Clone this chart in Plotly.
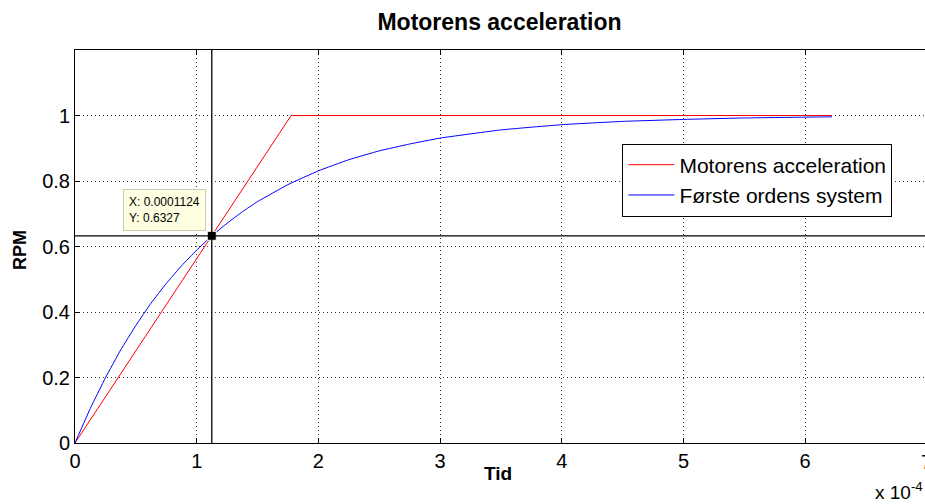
import plotly.graph_objects as go

# Data (time in seconds)
t_red = [0.0, 1.776e-4, 6.22e-4]
rpm_red = [0.0, 1.0, 1.0]

t_blue = [0.0, 0.125e-4, 0.25e-4, 0.375e-4, 0.5e-4, 0.625e-4, 0.75e-4, 0.875e-4, 1.0e-4,
          1.124e-4, 1.25e-4, 1.375e-4, 1.5e-4, 1.75e-4, 2.0e-4, 2.25e-4, 2.5e-4, 2.75e-4,
          3.0e-4, 3.5e-4, 4.0e-4, 4.5e-4, 5.0e-4, 5.5e-4, 6.0e-4, 6.22e-4]
rpm_blue = [0.0, 0.105, 0.199, 0.284, 0.359, 0.427, 0.487, 0.541, 0.589,
            0.6327, 0.671, 0.706, 0.737, 0.789, 0.831, 0.865, 0.892, 0.913,
            0.931, 0.956, 0.972, 0.982, 0.988, 0.9925, 0.995, 0.996]

tip_x = [1.124e-4]
tip_y = [0.6327]

x_tickvals = [0, 1e-4, 2e-4, 3e-4, 4e-4, 5e-4, 6e-4, 7e-4]
x_ticktext = ["0", "1", "2", "3", "4", "5", "6", "7"]
y_tickvals = [0, 0.2, 0.4, 0.6, 0.8, 1.0]
y_ticktext = ["0", "0.2", "0.4", "0.6", "0.8", "1"]

FONT = "Arial, Liberation Sans, sans-serif"
X_MAX = 6.985e-4

fig = go.Figure()
fig.add_trace(go.Scatter(x=t_red, y=rpm_red, mode="lines", name="Motorens acceleration",
                         line=dict(color="#ff0000", width=1)))
fig.add_trace(go.Scatter(x=t_blue, y=rpm_blue, mode="lines", name="Første ordens system",
                         line=dict(color="#0000ff", width=1, shape="spline", smoothing=0.3)))

# crosshair lines of data tip
fig.add_shape(type="line", xref="x", yref="paper", x0=tip_x[0], x1=tip_x[0], y0=0, y1=1,
              line=dict(color="black", width=1.3))
fig.add_shape(type="line", xref="paper", yref="y", x0=0, x1=1, y0=tip_y[0], y1=tip_y[0],
              line=dict(color="black", width=1.3))

fig.add_trace(go.Scatter(x=tip_x, y=tip_y, mode="markers", showlegend=False,
                         marker=dict(symbol="square", size=9, color="black",
                                     line=dict(color="#ffffe1", width=1))))

fig.add_annotation(x=tip_x[0], y=tip_y[0], xref="x", yref="y",
                   text="X: 0.0001124<br>Y: 0.6327", showarrow=False,
                   xanchor="right", yanchor="bottom", xshift=-6, yshift=5, align="left",
                   bgcolor="#ffffe1", bordercolor="#c8c8b4", borderwidth=1, borderpad=5,
                   font=dict(family=FONT, size=12, color="black"))

# partially visible last tick label "7" (axis range ends just before it)
fig.add_annotation(x=x_tickvals[-1] / X_MAX, y=0, xref="paper", yref="paper",
                   text=x_ticktext[-1], showarrow=False, xanchor="center", yanchor="top",
                   yshift=-6, font=dict(family=FONT, size=20, color="black"))

# exponent label
fig.add_annotation(x=1.0, y=0, xref="paper", yref="paper", text="x 10<sup>-4</sup>",
                   showarrow=False, xanchor="right", yanchor="middle", yshift=-48, xshift=0,
                   font=dict(family=FONT, size=19, color="black"))

# axis titles
fig.add_annotation(x=0.498, y=0, xref="paper", yref="paper", text="<b>Tid</b>",
                   showarrow=False, xanchor="center", yanchor="middle", yshift=-30,
                   font=dict(family=FONT, size=19, color="black"))
fig.add_annotation(x=0, y=0.491, xref="paper", yref="paper", text="<b>RPM</b>",
                   showarrow=False, xanchor="center", yanchor="middle", xshift=-55,
                   textangle=-90, font=dict(family=FONT, size=18, color="black"))

fig.update_layout(
    width=925, height=504,
    margin=dict(l=75, r=0, t=50, b=61),
    paper_bgcolor="white", plot_bgcolor="white",
    title=dict(text="<b>Motorens acceleration</b>", x=0.54, xanchor="center",
               y=0.956, yanchor="middle", font=dict(family=FONT, size=23, color="black")),
    font=dict(family=FONT, size=20, color="black"),
    legend=dict(x=0.644, y=0.762, xanchor="left", yanchor="top",
                bgcolor="white", bordercolor="black", borderwidth=1, itemwidth=46,
                font=dict(family=FONT, size=21, color="black"), tracegroupgap=0),
    xaxis=dict(range=[0, X_MAX], tickvals=x_tickvals, ticktext=x_ticktext,
               showline=True, linecolor="black", linewidth=1, mirror="ticks",
               ticks="inside", ticklen=5, tickcolor="black",
               tickfont=dict(family=FONT, size=20),
               showgrid=True, gridcolor="#333", griddash="1px,3px", gridwidth=1,
               zeroline=False),
    yaxis=dict(range=[0, 1.2], tickvals=y_tickvals, ticktext=y_ticktext,
               showline=True, linecolor="black", linewidth=1,
               ticks="inside", ticklen=5, tickcolor="black",
               tickfont=dict(family=FONT, size=20),
               showgrid=True, gridcolor="#333", griddash="1px,3px", gridwidth=1,
               zeroline=False),
)

fig.write_html("out.html")
